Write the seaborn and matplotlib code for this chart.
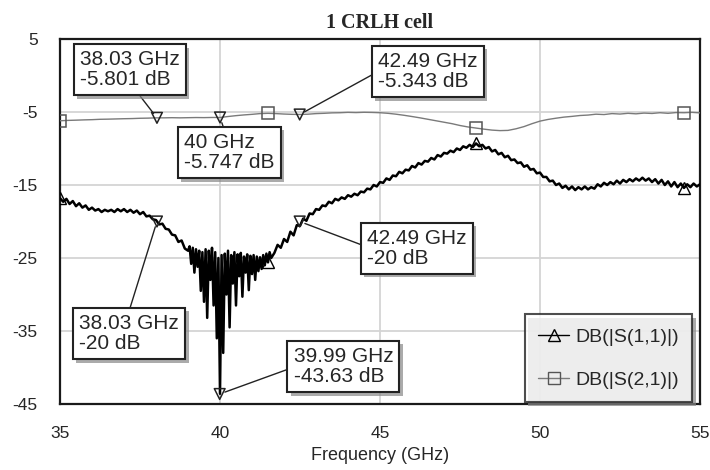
import numpy as np
import pandas as pd
import matplotlib
matplotlib.use("Agg")
import matplotlib.pyplot as plt
import matplotlib.patheffects as pe
from matplotlib.lines import Line2D
import seaborn as sns

# S11, three sampling segments (GHz ranges)
s11_seg_a_range = (35.0, 38.9)   # step 0.1
s11_seg_a = [-16.8, -17.3, -16.9, -17.6, -17.2, -17.9, -17.5, -18.1, -17.8, -18.4,
             -18.1, -18.5, -18.3, -18.7, -18.4, -18.6, -18.4, -18.7, -18.3, -18.6,
             -18.3, -18.7, -18.4, -18.8, -18.5, -19.0, -18.7, -19.3, -19.2, -19.7,
             -19.8, -20.4, -20.3, -21.0, -21.1, -21.8, -21.9, -22.8, -22.6, -23.7]
s11_seg_b_range = (39.0, 41.6)   # step 0.05, the noisy dip
s11_seg_b = [-24.0, -23.4, -25.8, -23.6, -27.0, -23.8, -26.2, -24.0, -29.5, -24.2,
             -31.0, -23.8, -33.2, -24.0, -28.0, -23.6, -31.5, -24.2, -36.0, -25.0,
             -43.6, -24.6, -38.0, -24.4, -30.0, -24.0, -34.5, -24.6, -28.5, -24.2,
             -31.5, -24.5, -27.5, -24.3, -30.3, -24.8, -27.0, -24.5, -29.4, -24.7,
             -27.2, -24.6, -28.0, -24.8, -26.8, -24.9, -26.5, -24.6, -26.0, -24.4,
             -25.6, -24.2, -25.0]
s11_seg_c_range = (41.7, 55.0)   # step 0.1
s11_seg_c = [-24.3, -23.2, -23.6,
             -22.4, -22.8, -21.4, -21.9, -20.5, -20.6, -19.6, -19.9, -18.9, -19.0,
             -18.3, -18.4, -17.8, -17.9, -17.3, -17.5, -16.9, -17.1, -16.7, -16.9,
             -16.4, -16.6, -16.2, -16.4, -15.9, -16.0, -15.5, -15.6, -15.0, -15.2,
             -14.6, -14.7, -14.1, -14.3, -13.7, -13.8, -13.2, -13.4, -12.9, -13.0,
             -12.4, -12.6, -12.0, -12.2, -11.7, -11.8, -11.3, -11.5, -10.9, -11.1,
             -10.6, -10.7, -10.3, -10.5, -10.0, -10.2, -9.7, -9.9, -9.5, -9.8,
             -9.3, -9.7, -9.5, -10.0, -9.8, -10.4, -10.2, -10.8, -10.6, -11.2,
             -11.0, -11.6, -11.5, -12.0, -11.9, -12.5, -12.3, -12.9, -12.8, -13.4,
             -13.3, -13.9, -13.9, -14.5, -14.4, -15.0, -14.8, -15.4, -15.1, -15.6,
             -15.2, -15.7, -15.3, -15.6, -15.2, -15.6, -15.3, -15.5, -14.9, -15.2,
             -14.7, -15.0, -14.6, -14.9, -14.4, -14.8, -14.3, -14.6, -14.2, -14.5,
             -14.1, -14.4, -14.0, -14.4, -14.1, -14.6, -14.2, -14.8, -14.3, -15.0,
             -14.5, -15.2, -14.6, -15.3, -14.8, -15.4, -14.9, -15.3, -14.8, -15.2,
             -14.9]

# S21, step 0.25 GHz
s21_range = (35.0, 55.0)
s21 = [-6.20, -6.15, -6.12, -6.08, -6.05, -6.00, -5.98, -5.95, -5.92, -5.90,
       -5.86, -5.84, -5.80, -5.80, -5.78, -5.80, -5.78, -5.76, -5.77, -5.75,
       -5.75, -5.62, -5.50, -5.40, -5.32, -5.22, -5.18, -5.22, -5.28, -5.32,
       -5.34, -5.30, -5.22, -5.18, -5.12, -5.10, -5.05, -5.08, -5.04, -5.06,
       -5.10, -5.18, -5.30, -5.45, -5.62, -5.80, -6.00, -6.20, -6.40, -6.60,
       -6.85, -7.05, -7.20, -7.35, -7.48, -7.55, -7.52, -7.30, -7.00, -6.60,
       -6.25, -6.02, -5.85, -5.70, -5.60, -5.48, -5.42, -5.30, -5.35, -5.22,
       -5.28, -5.18, -5.25, -5.15, -5.20, -5.10, -5.18, -5.08, -5.10, -5.05,
       -5.12]

# series symbols sit at these frequencies
symbol_freqs = [35.0, 41.5, 48.0, 54.5]

# marker readouts (freq, dB)
mk_freq = [38.03, 40.0, 42.49, 38.03, 42.49, 39.99]
mk_db = [-5.801, -5.747, -5.343, -20.0, -20.0, -43.63]
mk_text = ["38.03 GHz\n-5.801 dB", "40 GHz\n-5.747 dB", "42.49 GHz\n-5.343 dB",
           "38.03 GHz\n-20 dB", "42.49 GHz\n-20 dB", "39.99 GHz\n-43.63 dB"]

x_ticks = [35, 40, 45, 50, 55]
y_ticks = [5, -5, -15, -25, -35, -45]

s11_freq = np.concatenate([np.linspace(*s11_seg_a_range, len(s11_seg_a)),
                           np.linspace(*s11_seg_b_range, len(s11_seg_b)),
                           np.linspace(*s11_seg_c_range, len(s11_seg_c))])
s11_db = np.array(s11_seg_a + s11_seg_b + s11_seg_c)
s21_freq = np.linspace(*s21_range, len(s21))

df11 = pd.DataFrame({"freq": s11_freq, "db": s11_db})
df21 = pd.DataFrame({"freq": s21_freq, "db": s21})

sym11 = [int(np.argmin(np.abs(s11_freq - f))) for f in symbol_freqs]
sym21 = [int(np.argmin(np.abs(s21_freq - f))) for f in symbol_freqs]

sns.set_style("white")
plt.rcParams["font.family"] = ["Liberation Sans", "DejaVu Sans"]
plt.rcParams["axes.unicode_minus"] = False

fig = plt.figure(figsize=(7.1, 4.7), dpi=100)
ax = fig.add_axes([60 / 710, 66 / 470, 640 / 710, 365 / 470])

s21_col = "#7a7a7a"
sns.lineplot(data=df21, x="freq", y="db", ax=ax, color=s21_col, lw=1.0,
             sort=False, estimator=None, marker="s", markevery=sym21, ms=9,
             mfc="none", mec="#555555", mew=1.1, zorder=3)
sns.lineplot(data=df11, x="freq", y="db", ax=ax, color="black", lw=1.8,
             sort=False, estimator=None, marker="^", markevery=sym11, ms=8,
             mfc="none", mec="black", mew=1.0, zorder=4)

# readout markers
mk_df = pd.DataFrame({"freq": mk_freq, "db": mk_db})
sns.scatterplot(data=mk_df, x="freq", y="db", ax=ax, marker="v", s=60,
                facecolor="none", edgecolor="#222222", linewidth=1.1, zorder=5)

# readout boxes: text top-left (data), where the leader leaves the box
box_pos = [(35.62, 3.45), (38.87, -7.9), (44.94, 3.2),
           (35.6, -32.7), (44.6, -21.0), (42.3, -37.2)]
box_rel = [(0.55, 0.0), (0.46, 1.0), (0.0, 0.5),
           (0.49, 1.0), (0.0, 0.53), (0.0, 0.48)]
shadow = [pe.SimplePatchShadow(offset=(2.5, -2.5), shadow_rgbFace="#888888", alpha=0.7),
          pe.Normal()]
for f, d, t, pos, rel in zip(mk_freq, mk_db, mk_text, box_pos, box_rel):
    ann = ax.annotate(t, xy=(f, d), xytext=pos, textcoords="data",
                      ha="left", va="top", fontsize=15, linespacing=1.05,
                      bbox=dict(boxstyle="square,pad=0.3", fc="white",
                                ec="#222222", lw=1.5),
                      arrowprops=dict(arrowstyle="-", color="#222222", lw=1.0,
                                      relpos=rel, shrinkA=0, shrinkB=4),
                      zorder=6)
    ann.get_bbox_patch().set_path_effects(shadow)

ax.set_xlim(35, 55)
ax.set_ylim(-45, 5)
ax.set_xticks(x_ticks)
ax.set_yticks(y_ticks)
ax.tick_params(axis="both", length=0, labelsize=12.5)
ax.tick_params(axis="y", pad=16)
ax.tick_params(axis="x", pad=16)
ax.grid(True, color="#d4d4d4", lw=1.3)
for sp in ax.spines.values():
    sp.set_color("#1a1a1a")
    sp.set_linewidth(1.6)
ax.set_xlabel("Frequency (GHz)", fontsize=13, labelpad=4)
ax.set_ylabel("")
ax.set_title("1 CRLH cell", fontsize=14.5, fontweight="bold",
             family="Liberation Serif", pad=8)

handles = [Line2D([], [], color="black", lw=1.0, marker="^", ms=8, mfc="none",
                  mec="black"),
           Line2D([], [], color=s21_col, lw=1.0, marker="s", ms=9, mfc="none",
                  mec="#555555")]
leg = ax.legend(handles, ["DB(|S(1,1)|)", "DB(|S(2,1)|)"], loc="lower right",
                bbox_to_anchor=(0.988, 0.005), fontsize=14, frameon=True,
                fancybox=False, edgecolor="#222222", labelspacing=1.3,
                handlelength=1.6, handletextpad=0.3, borderpad=0.7,
                borderaxespad=0)
leg.get_frame().set_linewidth(1.5)
leg.get_frame().set_path_effects(shadow)
leg.set_zorder(7)

fig.savefig("out.png", dpi=100)
